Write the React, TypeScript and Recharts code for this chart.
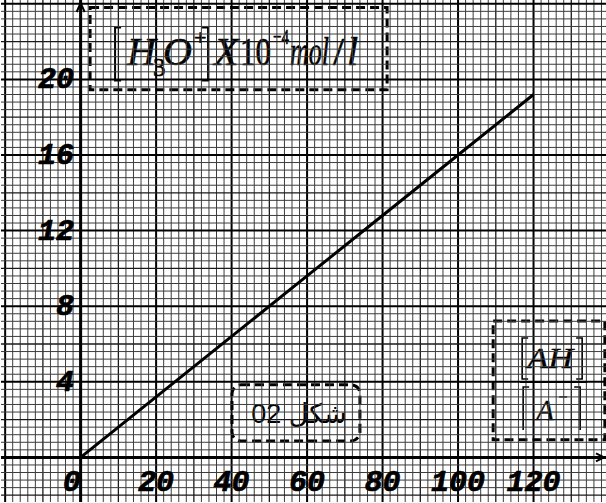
import { LineChart, Line, XAxis, YAxis, ReferenceLine, ReferenceArea } from 'recharts';

// [AH]/[A-] ratio against [H3O+] (x10^-4 mol/l)
const ratioValues = [0, 20, 40, 60, 80, 100, 120];
const h3oValues = [0, 3.2, 6.4, 9.6, 12.8, 16, 19.2];
const xTickLabels = [0, 20, 40, 60, 80, 100, 120];
const yTickLabels = [4, 8, 12, 16, 20];

const X_DOMAIN: [number, number] = [-21.1, 139.2];
const Y_DOMAIN: [number, number] = [-2.36, 24.2];

const data = ratioValues.map((r, i) => ({ ratio: r, h3o: h3oValues[i] }));

// graph paper: one small square = 2 units across, 0.4 units up
const xRulings = Array.from({ length: 80 }, (_, i) => -20 + 2 * i);
const yRulings = Array.from({ length: 67 }, (_, i) => Math.round((-2.4 + 0.4 * i) * 10) / 10);

const ruleStyle = (k: number) => {
  if (k % 10 === 0) return { stroke: '#000', strokeWidth: 2 };
  if (k % 5 === 0) return { stroke: '#1a1a1a', strokeWidth: 1.3 };
  return { stroke: '#3c3c3c', strokeWidth: 1 };
};

const tickFont = {
  fontFamily: '"Liberation Mono", monospace',
  fontWeight: 700,
  fontStyle: 'italic' as const,
  fontSize: 30,
  fill: '#000',
  stroke: '#000',
  strokeWidth: 0.7,
};
const serif = '"Liberation Serif", "Times New Roman", serif';

function XTick({ x, y, payload }: any) {
  const shift = payload.value === 0 ? -9 : 0;
  return (
    <text x={x + shift} y={y - 19} textAnchor="middle" dominantBaseline="central" style={tickFont}>
      {payload.value}
    </text>
  );
}

function YTick({ x, y, payload }: any) {
  return (
    <text x={x + 73} y={y + 1} textAnchor="end" dominantBaseline="central" style={tickFont}>
      {payload.value}
    </text>
  );
}

const bracket = (x: number, top: number, bottom: number, dir: 1 | -1, noBottom = false) =>
  `M${x + 6 * dir},${top} H${x} V${bottom}` + (noBottom ? '' : ` H${x + 6 * dir}`);

function UnitBox({ x, y, width, height }: any) {
  const t = (dx: number, dy: number) => ({ x: x + dx, y: y + dy });
  return (
    <g>
      <rect x={x} y={y} width={width} height={height} fill="#fff" stroke="#000" strokeWidth={3} strokeDasharray="9 5" />
      <path d={bracket(x + 25, y + 20, y + 73, 1)} fill="none" stroke="#000" strokeWidth={2} />
      <path d={bracket(x + 118, y + 20, y + 73, -1)} fill="none" stroke="#000" strokeWidth={2} />
      <g fill="#000" stroke="#000" strokeWidth={0.6} fontFamily={serif}>
        <text {...t(37, 57)} fontSize={40} fontStyle="italic">H</text>
        <text {...t(63, 68)} fontSize={25}>3</text>
        <text {...t(73, 57)} fontSize={40} fontStyle="italic">O</text>
        <text {...t(104, 37)} fontSize={22}>+</text>
        <text {...t(124, 57)} fontSize={40} fontStyle="italic">X</text>
        <text {...t(150, 57)} fontSize={40} textLength={31} lengthAdjust="spacingAndGlyphs">10</text>
        <text {...t(183, 36)} fontSize={22} textLength={16} lengthAdjust="spacingAndGlyphs">−4</text>
        <text {...t(200, 57)} fontSize={40} fontStyle="italic" textLength={39} lengthAdjust="spacingAndGlyphs">mol</text>
        <text {...t(243, 57)} fontSize={40}>/</text>
        <text {...t(257, 57)} fontSize={40} fontStyle="italic">l</text>
      </g>
    </g>
  );
}

function FigBox({ x, y, width, height }: any) {
  return (
    <g>
      <rect x={x} y={y} width={width} height={height} rx={9} fill="#fff" stroke="#000" strokeWidth={3} strokeDasharray="9 5" />
      <text
        x={x + width / 2 + 3}
        y={y + height / 2 + 1}
        textAnchor="middle"
        dominantBaseline="central"
        direction="rtl"
        style={{ direction: 'rtl', unicodeBidi: 'embed' }}
        fontFamily='"Liberation Sans", Arial, "DejaVu Sans", sans-serif'
        fontSize={27}
        fill="#000"
      >
        شكل 02
      </text>
    </g>
  );
}

function RatioBox({ x, y, width, height }: any) {
  const t = (dx: number, dy: number) => ({ x: x + dx, y: y + dy });
  return (
    <g>
      <rect x={x} y={y} width={width} height={height} fill="#fff" stroke="#000" strokeWidth={3} strokeDasharray="9 5" />
      <path d={bracket(x + 29, y + 17, y + 58, 1)} fill="none" stroke="#000" strokeWidth={1.6} />
      <path d={bracket(x + 89, y + 17, y + 58, -1)} fill="none" stroke="#000" strokeWidth={1.6} />
      <line x1={x + 27} x2={x + 94} y1={y + 61} y2={y + 61} stroke="#000" strokeWidth={2} />
      <path d={bracket(x + 30, y + 66, y + 109, 1, true)} fill="none" stroke="#000" strokeWidth={1.6} />
      <path d={bracket(x + 87, y + 66, y + 109, -1, true)} fill="none" stroke="#000" strokeWidth={1.6} />
      <g fill="#000" stroke="#000" strokeWidth={0.4} fontFamily={serif} fontStyle="italic">
        <text {...t(34, 47)} fontSize={29} textLength={46} lengthAdjust="spacingAndGlyphs">AH</text>
        <text {...t(43, 99)} fontSize={29}>A</text>
      </g>
      <line x1={x + 66} x2={x + 74} y1={y + 76} y2={y + 76} stroke="#000" strokeWidth={1.3} />
    </g>
  );
}

export default function App() {
  return (
    <div style={{ position: 'absolute', left: 0, top: 0, background: '#fff' }}>
      <LineChart width={606} height={503} data={data} margin={{ top: 0, right: 0, bottom: 0, left: 0 }}>
        <XAxis
          type="number"
          dataKey="ratio"
          domain={X_DOMAIN}
          ticks={xTickLabels}
          allowDataOverflow
          height={1}
          axisLine={false}
          tickLine={false}
          tickSize={0}
          tickMargin={0}
          interval={0}
          tick={<XTick />}
        />
        <YAxis
          type="number"
          domain={Y_DOMAIN}
          ticks={yTickLabels}
          allowDataOverflow
          width={1}
          axisLine={false}
          tickLine={false}
          tickSize={0}
          tickMargin={0}
          interval={0}
          tick={<YTick />}
        />
        {xRulings.map((v) => (
          <ReferenceLine key={`vx${v}`} x={v} {...ruleStyle(Math.round(v / 2))} />
        ))}
        {yRulings.map((v) => (
          <ReferenceLine key={`hy${v}`} y={v} {...ruleStyle(Math.round(v / 0.4))} />
        ))}
        <ReferenceLine
          x={0}
          stroke="#000"
          strokeWidth={3}
          label={({ viewBox }: any) => (
            <path
              d={`M${viewBox.x - 4},${viewBox.y + 12} L${viewBox.x},${viewBox.y + 3} L${viewBox.x + 4},${viewBox.y + 12}`}
              fill="none"
              stroke="#000"
              strokeWidth={2}
            />
          )}
        />
        <ReferenceLine
          y={0}
          stroke="#000"
          strokeWidth={3}
          label={({ viewBox }: any) => (
            <path
              d={`M${viewBox.x + viewBox.width - 10},${viewBox.y - 4} L${viewBox.x + viewBox.width - 2},${viewBox.y} L${viewBox.x + viewBox.width - 10},${viewBox.y + 4}`}
              fill="none"
              stroke="#000"
              strokeWidth={2}
            />
          )}
        />
        <Line type="linear" dataKey="h3o" stroke="#000" strokeWidth={3} dot={false} activeDot={false} isAnimationActive={false} />
        <ReferenceArea x1={2.5} x2={81.2} y1={19.45} y2={23.8} shape={(p: any) => <UnitBox {...p} />} />
        <ReferenceArea x1={40.1} x2={74.0} y1={0.87} y2={3.84} shape={(p: any) => <FigBox {...p} />} />
        <ReferenceArea x1={109.3} x2={138.9} y1={0.93} y2={7.22} shape={(p: any) => <RatioBox {...p} />} />
      </LineChart>
    </div>
  );
}
